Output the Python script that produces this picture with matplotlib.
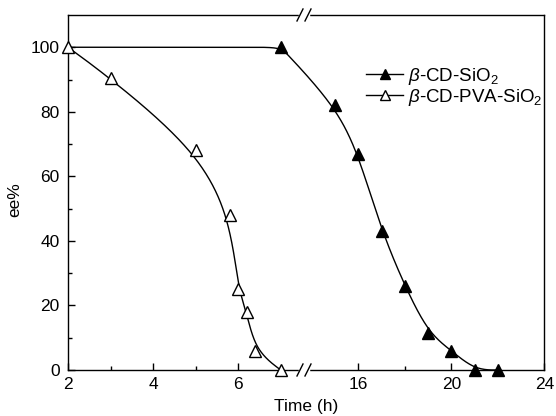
import numpy as np
import matplotlib
matplotlib.use('Agg')
import matplotlib.pyplot as plt

plt.rcParams['font.family'] = ['Liberation Sans', 'DejaVu Sans']
plt.rcParams['mathtext.fontset'] = 'custom'
plt.rcParams['mathtext.rm'] = 'Liberation Sans'
plt.rcParams['mathtext.it'] = 'Liberation Sans:italic'

# data
time_sio2 = [7, 15, 16, 17, 18, 19, 20, 21, 22]
ee_sio2 = [100, 82, 67, 43, 26, 11.5, 6, 0, 0]
time_pva = [2, 3, 5, 5.8, 6, 6.2, 6.4, 7]
ee_pva = [100, 90.4, 68.3, 48, 25, 18, 6, 0]

label_sio2 = r'$\beta$-CD-SiO$_2$'
label_pva = r'$\beta$-CD-PVA-SiO$_2$'

# broken x axis: 2..7.6 normal, 13.76..24 compressed
xb0, xb1, k = 7.6, 13.76, 0.547


def fwd(x):
    x = np.asarray(x, dtype=float)
    return np.where(x <= xb0, x, np.where(x >= xb1, xb0 + (x - xb1) * k, xb0))


def inv(u):
    u = np.asarray(u, dtype=float)
    return np.where(u <= xb0, u, xb1 + (u - xb0) / k)


def bspline(xs, ys, n=60):
    # clamped uniform cubic B-spline using the points as control points
    P = np.column_stack([xs, ys]).astype(float)
    P = np.vstack([P[0], P[0], P, P[-1], P[-1]])
    t = np.linspace(0, 1, n)[:, None]
    b0 = (1 - t)**3 / 6
    b1 = (3 * t**3 - 6 * t**2 + 4) / 6
    b2 = (-3 * t**3 + 3 * t**2 + 3 * t + 1) / 6
    b3 = t**3 / 6
    out = []
    for i in range(len(P) - 3):
        out.append(b0 * P[i] + b1 * P[i + 1] + b2 * P[i + 2] + b3 * P[i + 3])
    out = np.vstack(out)
    return out[:, 0], out[:, 1]


fig = plt.figure(figsize=(5.56, 4.16), dpi=100)
ax = fig.add_axes([0.1223, 0.1106, 0.857, 0.8534])
ax.set_xscale('function', functions=(fwd, inv))

# curves are built in the displayed (broken) coordinate, then mapped back
# (first SiO2 point used twice so the line stays close to it, as in the original)
su = fwd(time_sio2)
cu, cy = bspline(np.r_[2, su[0], su], np.r_[100, ee_sio2[0], ee_sio2])
ax.plot(inv(cu), cy, color='black', lw=1.0)
cu, cy = bspline(time_pva, ee_pva)
ax.plot(cu, cy, color='black', lw=1.0)

ax.plot(time_sio2, ee_sio2, ls='none', marker='^', ms=8, mfc='black', mec='black',
        clip_on=False, zorder=5)
ax.plot(time_pva, ee_pva, ls='none', marker='^', ms=8, mfc='white', mec='black',
        mew=1.0, clip_on=False, zorder=5)

ax.set_xlim(2, 24)
ax.set_ylim(0, 110)
ax.set_xticks([2, 4, 6, 16, 20, 24])
ax.set_xticks([3, 5, 7, 18, 22], minor=True)
ax.set_xticklabels(['2', '4', '6', '16', '20', '24'])
ax.set_yticks([0, 20, 40, 60, 80, 100])
ax.set_yticks([10, 30, 50, 70, 90], minor=True)
ax.tick_params(which='both', direction='in', top=False, right=False, labelsize=12.5)
ax.tick_params(which='major', length=5, width=1, pad=6)
ax.tick_params(which='minor', length=3, width=1)
ax.tick_params(axis='x', pad=5)
for s in ax.spines.values():
    s.set_linewidth(1.0)

ax.set_xlabel('Time (h)', fontsize=12.5, labelpad=5)
ax.set_ylabel('ee%', fontsize=12.5)
ax.yaxis.set_label_coords(-0.097, 0.48)

# legend, made from proxy handles
h1, = ax.plot([], [], color='black', lw=1.0, marker='^', ms=7, mfc='black', mec='black')
h2, = ax.plot([], [], color='black', lw=1.0, marker='^', ms=7, mfc='white', mec='black')
ax.legend([h1, h2], [label_sio2, label_pva], loc='upper right', frameon=False,
          fontsize=13.5, handlelength=2.0, handletextpad=0.25, labelspacing=0.0,
          borderpad=0.0, bbox_to_anchor=(1.0, 0.862), borderaxespad=0.1)

# break marks on top and bottom spines
px = 1 / 476.5
py = 1 / 355.0
xc = (304 - 68) * px
for yy in (0, 1):
    ax.plot([xc - 4 * px, xc + 4 * px], [yy, yy], color='white', lw=2.5,
            transform=ax.transAxes, clip_on=False, zorder=6)
    for dx in (-4, 4):
        ax.plot([xc + (dx - 3) * px, xc + (dx + 3) * px], [yy - 6 * py, yy + 6 * py],
                color='black', lw=1.0, transform=ax.transAxes, clip_on=False, zorder=7)

plt.savefig('out.png', dpi=100)
